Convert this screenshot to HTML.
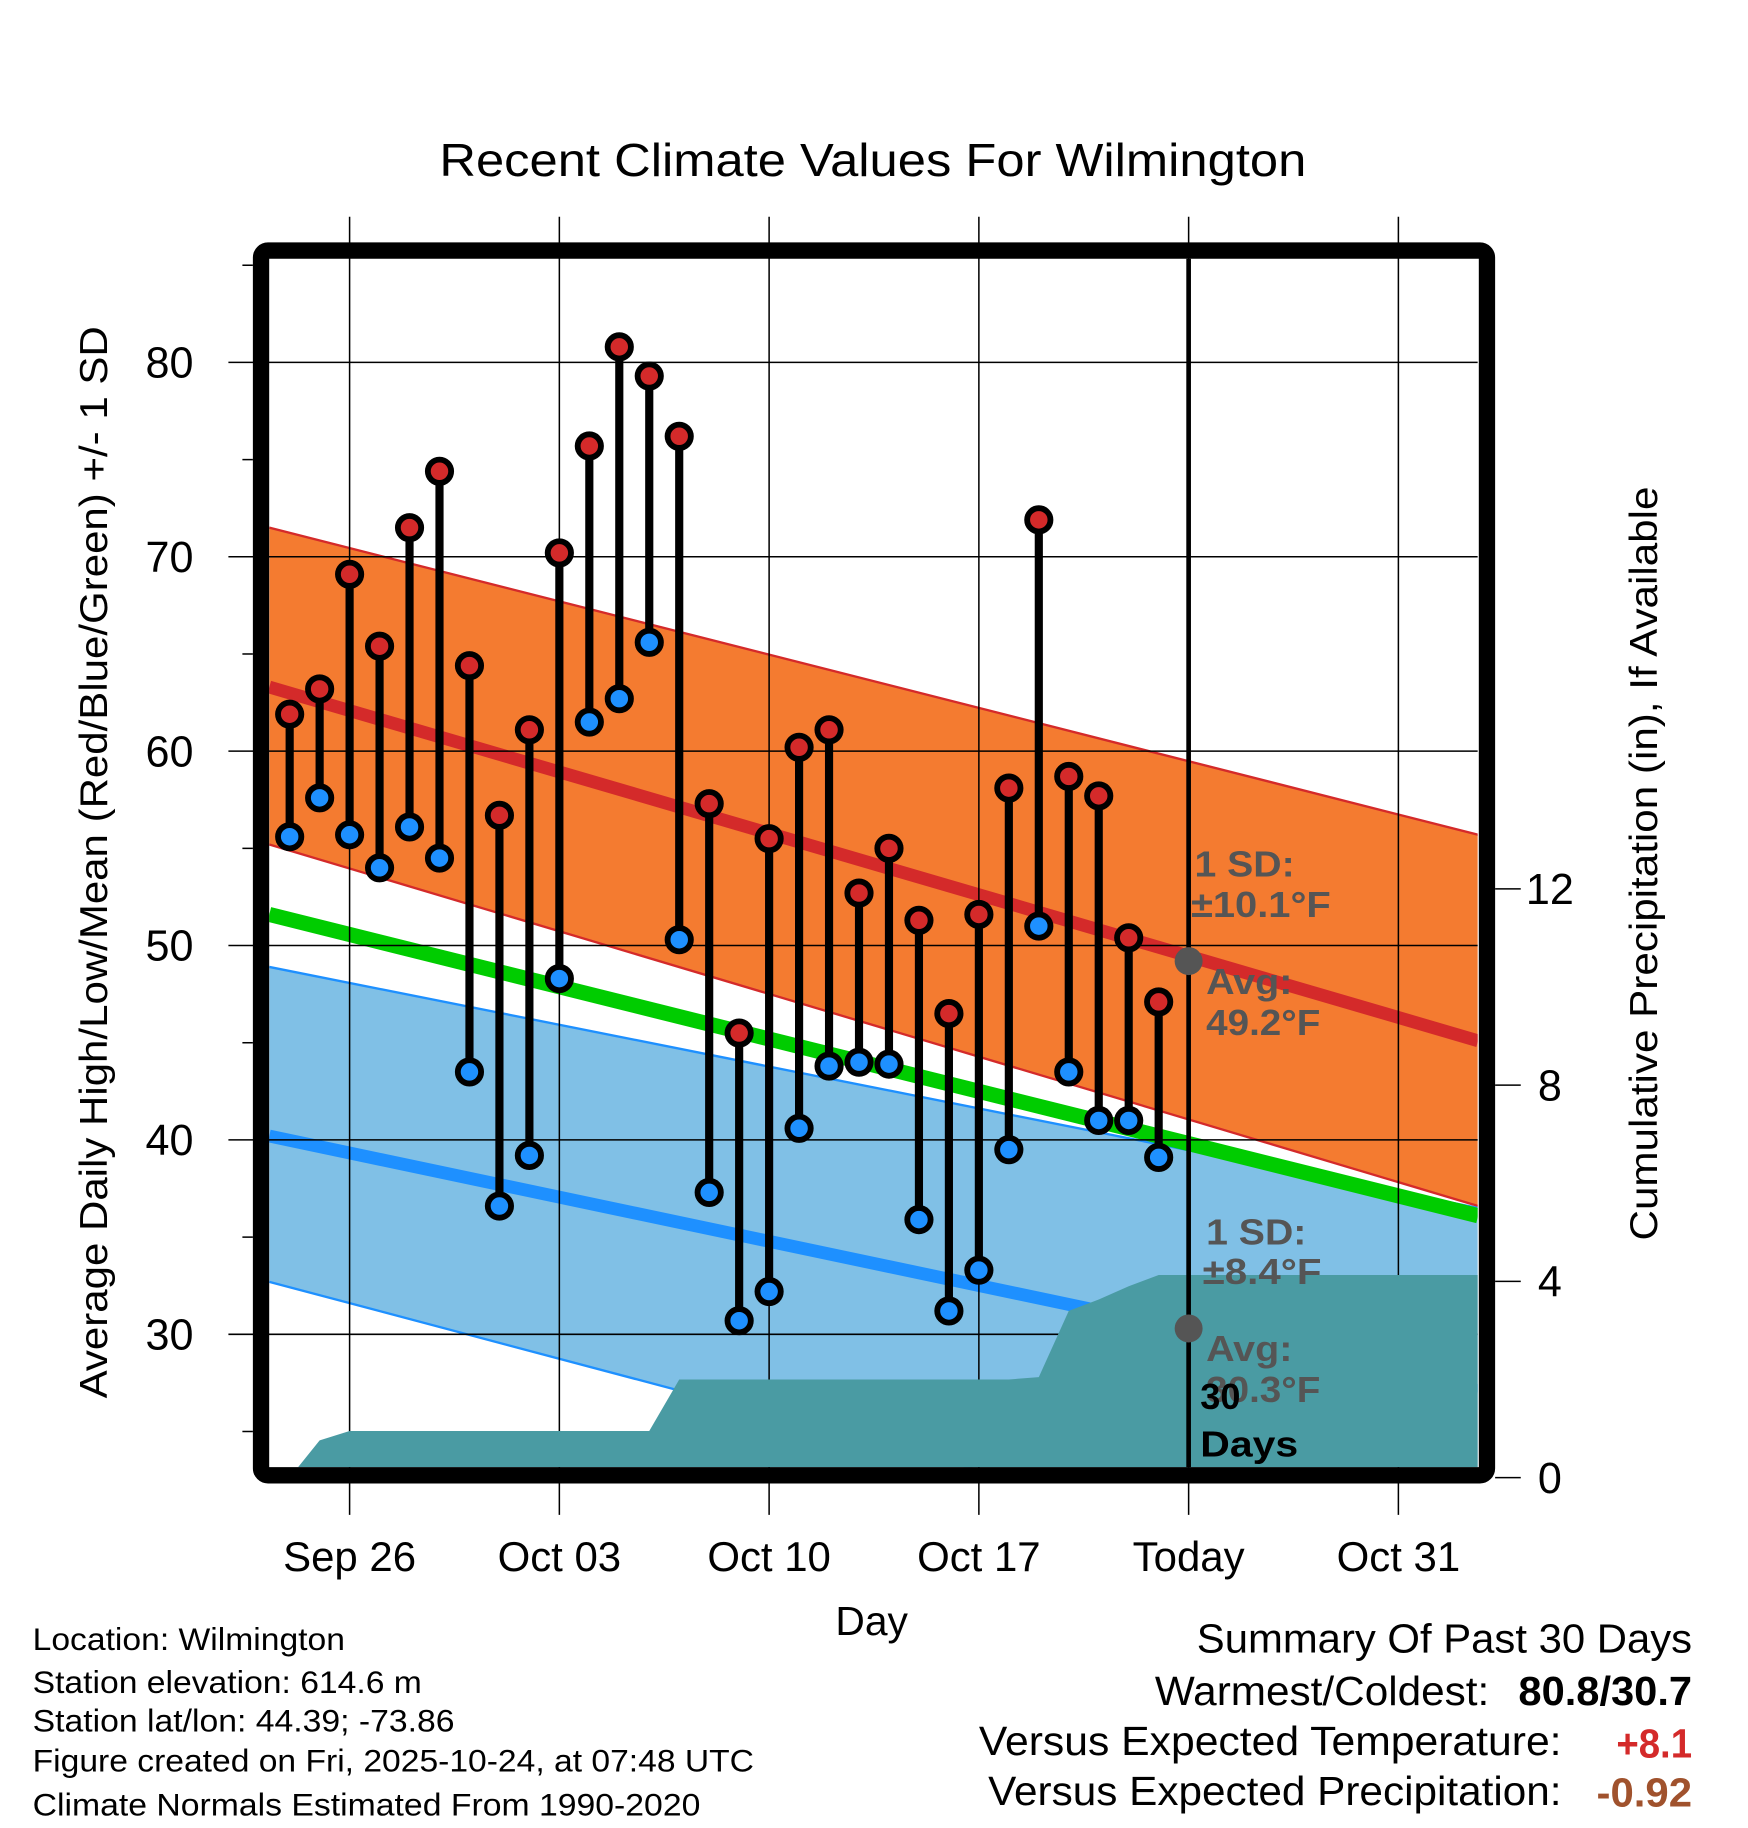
<!DOCTYPE html>
<html><head><meta charset="utf-8"><style>
html,body{margin:0;padding:0;background:#fff;}
svg{display:block;font-family:"Liberation Sans",Arial,sans-serif;}
</style></head><body>
<svg id="chart" width="1748" height="1828" viewBox="0 0 1500 1568.65" xmlns="http://www.w3.org/2000/svg">
<rect width="1500" height="1568.65" fill="#fff"/>
<defs><clipPath id="plotclip"><rect x="231" y="222" width="1037" height="1037"/></clipPath></defs>
<text x="749" y="151" font-size="40" text-anchor="middle" textLength="744" lengthAdjust="spacingAndGlyphs">Recent Climate Values For Wilmington</text>
<g id="bands" clip-path="url(#plotclip)"></g>
<g id="grid"></g>
<g id="precip" clip-path="url(#plotclip)"></g>
<g id="marks"></g>
<g id="frame"></g>
<g id="annot" font-weight="bold" font-size="31" lengthAdjust="spacingAndGlyphs">
<text x="1025" y="752" fill="#555" textLength="86" lengthAdjust="spacingAndGlyphs">1 SD:</text>
<text x="1022" y="787" fill="#555" textLength="120" lengthAdjust="spacingAndGlyphs">±10.1°F</text>
<text x="1035" y="853" fill="#555" textLength="74" lengthAdjust="spacingAndGlyphs">Avg:</text>
<text x="1035" y="888" fill="#555" textLength="98" lengthAdjust="spacingAndGlyphs">49.2°F</text>
<text x="1035" y="1068" fill="#555" textLength="86" lengthAdjust="spacingAndGlyphs">1 SD:</text>
<text x="1032" y="1102" fill="#555" textLength="102" lengthAdjust="spacingAndGlyphs">±8.4°F</text>
<text x="1035" y="1168" fill="#555" textLength="74" lengthAdjust="spacingAndGlyphs">Avg:</text>
<text x="1035" y="1203" fill="#555" textLength="98" lengthAdjust="spacingAndGlyphs">30.3°F</text>
<text x="1030" y="1209" fill="#000">30</text>
<text x="1030" y="1250" fill="#000" textLength="84" lengthAdjust="spacingAndGlyphs">Days</text>
</g>
<text transform="translate(92,740) rotate(-90)" font-size="33" text-anchor="middle" textLength="920" lengthAdjust="spacingAndGlyphs">Average Daily High/Low/Mean (Red/Blue/Green) +/- 1 SD</text>
<text transform="translate(1422,741) rotate(-90)" font-size="33" text-anchor="middle" textLength="647" lengthAdjust="spacingAndGlyphs">Cumulative Precipitation (in), If Available</text>
<text x="748" y="1403" font-size="35" text-anchor="middle">Day</text>
<g font-size="27">
<text x="28" y="1416" textLength="268" lengthAdjust="spacingAndGlyphs">Location: Wilmington</text>
<text x="28" y="1453" textLength="334" lengthAdjust="spacingAndGlyphs">Station elevation: 614.6 m</text>
<text x="28" y="1486" textLength="362" lengthAdjust="spacingAndGlyphs">Station lat/lon: 44.39; -73.86</text>
<text x="28" y="1520" textLength="619" lengthAdjust="spacingAndGlyphs">Figure created on Fri, 2025-10-24, at 07:48 UTC</text>
<text x="28" y="1558" textLength="573" lengthAdjust="spacingAndGlyphs">Climate Normals Estimated From 1990-2020</text>
</g>
<g font-size="35">
<text x="1027" y="1418" textLength="425" lengthAdjust="spacingAndGlyphs">Summary Of Past 30 Days</text>
<text x="991" y="1463" textLength="287" lengthAdjust="spacingAndGlyphs">Warmest/Coldest:</text>
<text x="1303" y="1463" font-weight="bold" textLength="149" lengthAdjust="spacingAndGlyphs">80.8/30.7</text>
<text x="840" y="1506" textLength="500" lengthAdjust="spacingAndGlyphs">Versus Expected Temperature:</text>
<text x="1387" y="1508" font-weight="bold" fill="#d42a2a" textLength="65" lengthAdjust="spacingAndGlyphs">+8.1</text>
<text x="848" y="1549" textLength="492" lengthAdjust="spacingAndGlyphs">Versus Expected Precipitation:</text>
<text x="1370" y="1550" font-weight="bold" fill="#a0522d" textLength="82" lengthAdjust="spacingAndGlyphs">-0.92</text>
</g>
</svg>
<script>
const days = [-2,-1,0,1,2,3,4,5,6,7,8,9,10,11,12,13,14,15,16,17,18,19,20,21,22,23,24,25,26,27];
const highs = [61.9,63.2,69.1,65.4,71.5,74.4,64.4,56.7,61.1,70.2,75.7,80.8,79.3,76.2,57.3,45.5,55.5,60.2,61.1,52.7,55.0,51.3,46.5,51.6,58.1,71.9,58.7,57.7,50.4,47.1];
const lows = [55.6,57.6,55.7,54.0,56.1,54.5,43.5,36.6,39.2,48.3,61.5,62.7,65.6,50.3,37.3,30.7,32.2,40.6,43.8,44.0,43.9,35.9,31.2,33.3,39.5,51.0,43.5,41.0,41.0,39.1];
const precip = [0,0.76,0.95,0.95,0.95,0.95,0.95,0.95,0.95,0.95,0.95,0.95,0.95,2.0,2.0,2.0,2.0,2.0,2.0,2.0,2.0,2.0,2.0,2.0,2.0,2.05,3.4,3.63,3.9,4.13];
const normDays = [-2.68,37.66];
const highAvg = [63.3,45.1];
const highUpper = [71.5,55.7];
const highLower = [55.2,36.6];
const meanAvg = [51.6,36.1];
const lowAvg = [40.2,27.1];
const lowUpper = [48.9,36.5];
const lowLower = [32.7,16.2];
const xTickDays = [0,7,14,21,28,35];
const xTickLabels = ["Sep 26","Oct 03","Oct 10","Oct 17","Today","Oct 31"];
const yTicks = [30,40,50,60,70,80];
const y2Ticks = [0,4,8,12];
const todayDay = 28;
const avgHighToday = 49.2, avgLowToday = 30.3;

const NS="http://www.w3.org/2000/svg";
const X = d => 300 + d*25.714;
const Y = v => 311 + (80-v)*16.68;
const YP = p => 1268 - p*42.1;
function mk(tag, attrs, parent){const e=document.createElementNS(NS,tag);for(const k in attrs)e.setAttribute(k,attrs[k]);parent.appendChild(e);return e;}
const bands=document.getElementById('bands'),grid=document.getElementById('grid'),pg=document.getElementById('precip'),marks=document.getElementById('marks'),frame=document.getElementById('frame');
function band(up,lo,fill,name){
  const p=`${X(normDays[0])},${Y(up[0])} ${X(normDays[1])},${Y(up[1])} ${X(normDays[1])},${Y(lo[1])} ${X(normDays[0])},${Y(lo[0])}`;
  const e=mk('polygon',{points:p,fill:fill},bands);
  
  
  return e;
}
function nline(arr,col,w,name,parent){
  const e=mk('line',{x1:X(normDays[0]),y1:Y(arr[0]),x2:X(normDays[1]),y2:Y(arr[1]),stroke:col,'stroke-width':w},parent||bands);
  
  
}
band(highUpper,highLower,'#f47b30','high-sd-band');
nline(highUpper,'#d42a2a',2,'high-upper-edge');
nline(highLower,'#d42a2a',2,'high-lower-edge');
band(lowUpper,lowLower,'#80c0e6','low-sd-band');
nline(lowUpper,'#1e90ff',2,'low-upper-edge');
nline(lowLower,'#1e90ff',2,'low-lower-edge');
nline(highAvg,'#d42a2a',11,'avg-high-line');
nline(lowAvg,'#1e90ff',11,'avg-low-line');
nline(meanAvg,'#00cc00',13,'avg-mean-line');
yTicks.forEach(v=>{
  const g=mk('line',{x1:196,x2:1268,y1:Y(v),y2:Y(v),stroke:'#000','stroke-width':1.3},grid);
  
  
  const t=mk('text',{x:166,y:Y(v)+13,'font-size':37,'text-anchor':'end'},grid);t.textContent=v;
  
  
});
[25,35,45,55,65,75,85].forEach(v=>{mk('line',{x1:208,x2:217,y1:Y(v),y2:Y(v),stroke:'#000','stroke-width':1.3},grid);});
xTickDays.forEach((d,i)=>{
  const g=mk('line',{x1:X(d),x2:X(d),y1:186,y2:1300,stroke:'#000','stroke-width':1.3},grid);
  
  
  const t=mk('text',{x:X(d),y:1348,'font-size':36,'text-anchor':'middle'},grid);t.textContent=xTickLabels[i];
  
  
});
y2Ticks.forEach(p=>{
  mk('line',{x1:1283,x2:1305,y1:YP(p),y2:YP(p),stroke:'#000','stroke-width':1.3},grid);
  const t=mk('text',{x:1330,y:YP(p)+13,'font-size':37,'text-anchor':'middle'},grid);t.textContent=p;
  
  
});
let pts=`${X(days[0])},${YP(0)} `;
days.forEach((d,i)=>{pts+=`${X(d)},${YP(precip[i])} `;});
pts+=`1270,${YP(precip[precip.length-1])} 1270,1270`;
const pa=mk('polygon',{points:pts,fill:'#4a9ba3'},pg);


const tl=mk('line',{x1:X(todayDay),x2:X(todayDay),y1:222,y2:1259,stroke:'#000','stroke-width':4},marks);


[avgHighToday,avgLowToday].forEach((v,i)=>{
  const c=mk('circle',{cx:X(todayDay),cy:Y(v),r:12,fill:'#555'},marks);
  
  
});
days.forEach((d,i)=>{
  const s=mk('line',{x1:X(d),x2:X(d),y1:Y(highs[i]),y2:Y(lows[i]),stroke:'#000','stroke-width':7},marks);
  
  
});
days.forEach((d,i)=>{
  const h=mk('circle',{cx:X(d),cy:Y(highs[i]),r:10,fill:'#d42a2a',stroke:'#000','stroke-width':5},marks);
  
  
  const l=mk('circle',{cx:X(d),cy:Y(lows[i]),r:10,fill:'#1e90ff',stroke:'#000','stroke-width':5},marks);
  
  
});
const fr=mk('rect',{x:224,y:215,width:1052,height:1051,rx:6,fill:'none',stroke:'#000','stroke-width':14},frame);


</script>
</body></html>
